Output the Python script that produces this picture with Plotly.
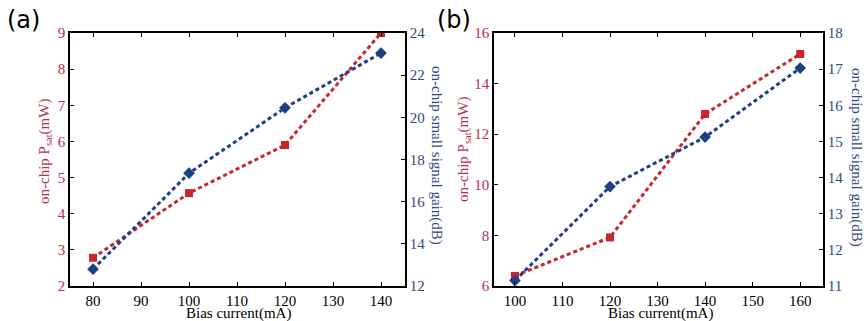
import plotly.graph_objects as go

# Panel (a)
a_current = [80, 100, 120, 140]
a_psat = [2.78, 4.57, 5.9, 9.0]
a_gain = [12.8, 17.35, 20.45, 23.05]
a_left_ticks = [2, 3, 4, 5, 6, 7, 8, 9]
a_right_ticks = [12, 14, 16, 18, 20, 22, 24]
a_x_ticks = [80, 90, 100, 110, 120, 130, 140]

# Panel (b)
b_current = [100, 120, 140, 160]
b_psat = [6.4, 7.92, 12.8, 15.17]
b_gain = [11.15, 13.75, 15.12, 17.03]
b_left_ticks = [6, 8, 10, 12, 14, 16]
b_right_ticks = [11, 12, 13, 14, 15, 16, 17, 18]
b_x_ticks = [100, 110, 120, 130, 140, 150, 160]

RED = "#c8262a"
BLUE = "#1f3f85"
RED_TXT = "#b4304c"
BLUE_TXT = "#34497e"
FONT = "Liberation Serif, Times New Roman, serif"

fig = go.Figure()

def add_pair(x, psat, gain, xa, ya_l, ya_r):
    fig.add_trace(go.Scatter(x=x, y=psat, xaxis=xa, yaxis=ya_l, mode="lines+markers",
                             line=dict(color=RED, width=3, dash="4px,3px"),
                             marker=dict(symbol="square", size=8, color=RED),
                             showlegend=False))
    fig.add_trace(go.Scatter(x=x, y=gain, xaxis=xa, yaxis=ya_r, mode="lines+markers",
                             line=dict(color=BLUE, width=3, dash="4px,3px"),
                             marker=dict(symbol="diamond", size=9, color=BLUE),
                             showlegend=False))

add_pair(a_current, a_psat, a_gain, "x", "y", "y2")
add_pair(b_current, b_psat, b_gain, "x2", "y3", "y4")

ydom = [1 - 286 / 321, 1 - 33 / 321]
xdom_a = [70 / 864, 405 / 864]
xdom_b = [494 / 864, 823 / 864]

def xaxis(dom, rng, ticks, anchor):
    return dict(domain=dom, range=rng, tickvals=ticks, anchor=anchor, automargin=False,
                showline=True, linecolor="black", linewidth=1.5, mirror="ticks",
                ticks="inside", ticklen=4, tickcolor="black", showgrid=False, zeroline=False,
                ticklabelstandoff=0,
                tickfont=dict(family=FONT, size=15, color="black"))

def yleft(rng, ticks, anchor):
    return dict(domain=ydom, range=rng, tickvals=ticks, anchor=anchor, side="left",
                automargin=False,
                showline=True, linecolor="black", linewidth=1.5,
                ticks="inside", ticklen=4, tickcolor="black", showgrid=False, zeroline=False,
                tickfont=dict(family=FONT, size=15, color=RED_TXT))

def yright(rng, ticks, anchor, over):
    return dict(domain=ydom, range=rng, tickvals=ticks, anchor=anchor, side="right",
                automargin=False,
                overlaying=over, showline=True, linecolor="black", linewidth=1.5,
                ticks="inside", ticklen=4, tickcolor="black", showgrid=False, zeroline=False,
                tickfont=dict(family=FONT, size=15, color=BLUE_TXT))

fig.update_layout(
    width=864, height=321,
    margin=dict(l=0, r=0, t=0, b=0, pad=0, autoexpand=False),
    paper_bgcolor="white", plot_bgcolor="white",
    showlegend=False,
    xaxis=xaxis(xdom_a, [75.2, 145], a_x_ticks, "y"),
    yaxis=yleft([2, 9], a_left_ticks, "x"),
    yaxis2=yright([12, 24], a_right_ticks, "x", "y"),
    xaxis2=xaxis(xdom_b, [95.6, 164.8], b_x_ticks, "y3"),
    yaxis3=yleft([6, 16], b_left_ticks, "x2"),
    yaxis4=yright([11, 18], b_right_ticks, "x2", "y3"),
)

ann = [
    dict(text="(a)", x=23 / 864, y=1 - 20 / 321, font=dict(family="DejaVu Sans", size=24, color="black")),
    dict(text="(b)", x=454 / 864, y=1 - 20 / 321, font=dict(family="DejaVu Sans", size=24, color="black")),
    dict(text="on-chip P<sub>sat</sub>(mW)", x=45 / 864, y=1 - 152 / 321, textangle=-90,
         font=dict(family=FONT, size=15, color=RED_TXT)),
    dict(text="on-chip P<sub>sat</sub>(mW)", x=464 / 864, y=1 - 150 / 321, textangle=-90,
         font=dict(family=FONT, size=15, color=RED_TXT)),
    dict(text="on-chip small signal gain(dB)", x=436 / 864, y=1 - 155 / 321, textangle=90,
         font=dict(family=FONT, size=15, color=BLUE_TXT)),
    dict(text="on-chip small signal gain(dB)", x=856 / 864, y=1 - 157 / 321, textangle=90,
         font=dict(family=FONT, size=15, color=BLUE_TXT)),
    dict(text="Bias current(mA)", x=238 / 864, y=1 - 313 / 321,
         font=dict(family=FONT, size=15, color="black")),
    dict(text="Bias current(mA)", x=660 / 864, y=1 - 313 / 321,
         font=dict(family=FONT, size=15, color="black")),
]
for a in ann:
    a.update(xref="paper", yref="paper", showarrow=False, xanchor="center", yanchor="middle")
fig.update_layout(annotations=ann)

fig.write_html("out.html")
